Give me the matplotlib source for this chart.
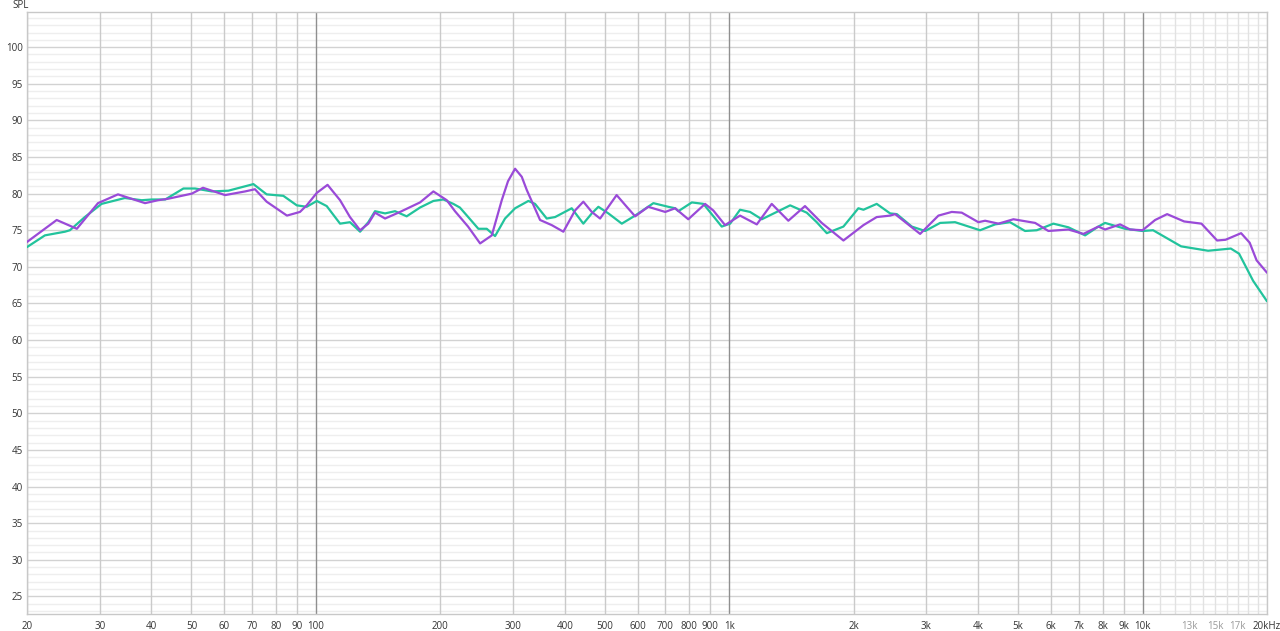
import matplotlib
matplotlib.use("Agg")
import matplotlib.pyplot as plt
from matplotlib.ticker import FixedLocator, NullFormatter

plt.rcParams['font.family'] = ['Open Sans', 'DejaVu Sans']

# ---- data ----
purple_freq = [20, 23.6, 26.4, 29.7, 33.2, 38.6, 41.5, 43.9, 50.1, 53.3, 60.3, 67.4, 71.2,
               76, 85.1, 91.5, 95, 100.5, 106.7, 114.4, 120.9, 127.9, 133.9, 139, 147,
               159.8, 178.6, 192.4, 207.3, 217, 233.4, 249.6, 266.4, 281.6, 291.6, 303.3,
               314.8, 323.7,
               348.6, 372, 396.9, 423.6, 443.6, 465, 487, 510, 534, 565, 592, 637, 700,
               740, 796, 874, 915, 977, 1062, 1166, 1267, 1390, 1525, 1674, 1889, 2112,
               2274, 2450, 2520, 2896, 3207, 3454, 3652, 4006, 4160, 4480, 4870, 5496,
               5918, 6616, 7192, 7816, 8114, 8824, 9330, 10000, 10724, 11466, 12606,
               13884, 15146, 15878, 17312, 18160, 18872, 20000]
purple_spl = [73.4, 76.4, 75.2, 78.7, 79.9, 78.7, 79.1, 79.3, 80.0, 80.8, 79.8, 80.3, 80.6,
              78.9, 77.0, 77.5, 78.4, 80.1, 81.2, 79.1, 76.8, 75.0, 75.9, 77.4, 76.6,
              77.5, 78.8, 80.3, 79.1, 77.6, 75.5, 73.2, 74.3, 79.1, 81.7, 83.4,
              82.3, 80.5,
              76.4, 75.7, 74.8, 77.7, 78.9, 77.5, 76.6, 78.2, 79.8, 78.2, 76.9, 78.2, 77.5,
              78.0, 76.5, 78.6, 77.7, 75.7, 77.0, 75.8, 78.6, 76.3, 78.3, 76.0, 73.6, 75.7,
              76.8, 77.0, 77.2, 74.5, 77.0, 77.5, 77.4, 76.1, 76.3, 75.9, 76.5, 76.0,
              74.9, 75.1, 74.5, 75.5, 75.1, 75.8, 75.1, 75.0, 76.4, 77.2, 76.2,
              75.9, 73.6, 73.7, 74.6, 73.3, 70.9, 69.2]

green_freq = [20, 22.1, 24.7, 25.4, 27.6, 30.3, 34.5, 37.9, 40.1, 43.2, 47.8, 51, 56, 61.4,
              67.4, 70.6, 76, 83.4, 89.9, 95, 100.5, 106.2, 114.4, 120.9, 127.9, 133.9,
              139, 147, 155.4, 165.8, 178.6, 192.4, 203.4, 215, 223, 233.6, 247.2, 259,
              271.3, 286.8, 303.3, 326.6, 339, 361.8, 379, 415.8, 443.6, 465, 482.4, 510,
              549.6, 592, 655.4, 712.4, 740, 753, 812, 866, 959, 1005, 1062, 1123, 1199,
              1303, 1404, 1540, 1628, 1722, 1889, 2053, 2112, 2274, 2450, 2544, 2765,
              2978, 3238, 3518, 4044, 4398, 4778, 5196, 5546, 6084, 6616, 7260, 7816,
              8114, 9074, 10000, 10604, 12396, 14406, 16348, 17120, 18510, 20000]
green_spl = [72.7, 74.3, 74.8, 75.0, 76.8, 78.6, 79.4, 79.1, 79.2, 79.2, 80.7, 80.7, 80.3, 80.4,
             81.0, 81.3, 79.9, 79.7, 78.4, 78.2, 79.0, 78.3, 75.9, 76.1, 74.8, 76.1,
             77.6, 77.3, 77.6, 76.9, 78.1, 79.0, 79.2, 78.6, 78.1, 76.8, 75.2, 75.2,
             74.2, 76.6, 78.0, 79.0, 78.6, 76.6, 76.8, 78.0, 75.9, 77.3, 78.2, 77.3,
             75.9, 77.0, 78.7, 78.2, 78.0, 77.6, 78.8, 78.6, 75.5, 75.9, 77.8, 77.5, 76.5,
             77.5, 78.4, 77.4, 76.1, 74.6, 75.5, 78.0, 77.8, 78.6, 77.3, 77.2, 75.5,
             74.9, 76.0, 76.1, 75.0, 75.8, 76.1, 74.9, 75.0, 75.9, 75.4, 74.3, 75.5,
             76.0, 75.2, 74.9, 75.0, 72.8, 72.2, 72.5, 71.8, 68.1, 65.3]

x_tick_values = [20, 30, 40, 50, 60, 70, 80, 90, 100, 200, 300, 400, 500, 600, 700, 800, 900,
                 1000, 2000, 3000, 4000, 5000, 6000, 7000, 8000, 9000, 10000, 13000, 15000,
                 17000, 20000]
x_tick_labels = ['20', '30', '40', '50', '60', '70', '80', '90', '100', '200', '300', '400',
                 '500', '600', '700', '800', '900', '1k', '2k', '3k', '4k', '5k', '6k', '7k',
                 '8k', '9k', '10k', '13k', '15k', '17k', '20kHz']
y_tick_values = list(range(25, 101, 5))

# ---- figure ----
fig = plt.figure(figsize=(12.8, 6.31), dpi=100)
ax = fig.add_axes([27/1280, 17/631, 1240/1280, 602/631])
ax.set_xscale('log')
ax.set_xlim(20, 20000)
ax.set_ylim(22.6, 104.8)

# horizontal grid
for v in range(23, 105):
    if v % 5 == 0:
        ax.axhline(v, color='#d2d2d2', lw=1.0, zorder=0)
    else:
        ax.axhline(v, color='#eeeeee', lw=1.0, zorder=0)

# vertical grid
vlines = list(range(20, 100, 10)) + list(range(200, 1000, 100)) + list(range(2000, 10000, 1000))
for v in vlines:
    ax.axvline(v, color='#cacaca', lw=1.0, zorder=0.5)
for v in [100, 1000, 10000]:
    ax.axvline(v, color='#8f8f8f', lw=1.0, zorder=0.6)
for v in range(11000, 20001, 1000):
    ax.axvline(v, color='#e2e2e2', lw=1.0, zorder=0.5)

ax.plot(green_freq, green_spl, color='#22c39c', lw=1.6, zorder=3,
        solid_joinstyle='round', solid_capstyle='round')
ax.plot(purple_freq, purple_spl, color='#9a4ad8', lw=1.6, zorder=4,
        solid_joinstyle='round', solid_capstyle='round')

for s in ax.spines.values():
    s.set_color('#c8c8c8')
    s.set_linewidth(1.0)

ax.xaxis.set_major_locator(FixedLocator(x_tick_values))
ax.xaxis.set_minor_locator(FixedLocator([]))
ax.xaxis.set_minor_formatter(NullFormatter())
ax.set_xticklabels(x_tick_labels)
ax.set_yticks(y_tick_values)
ax.set_yticklabels([str(v) for v in y_tick_values])
ax.tick_params(axis='both', length=0, labelsize=7, colors='#333333', pad=3)
ax.tick_params(axis='x', pad=5)
for lbl in ax.get_xticklabels():
    if lbl.get_text() in ('13k', '15k', '17k'):
        lbl.set_color('#9a9a9a')

fig.text(12/1280, 1 - 5/631, 'SPL', fontsize=7, color='#333333', ha='left', va='center')

fig.savefig('out.png', dpi=100, facecolor='white')
